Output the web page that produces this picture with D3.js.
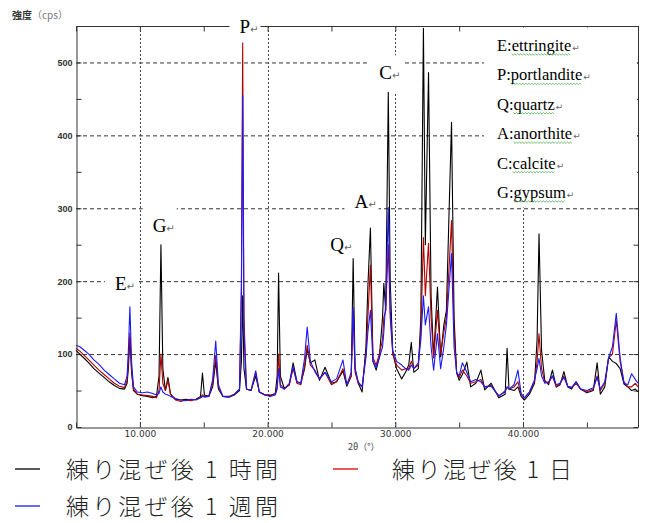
<!DOCTYPE html>
<html><head><meta charset="utf-8">
<script src="https://cdn.jsdelivr.net/npm/d3@7"></script>
<style>body{margin:0;background:#fff}svg{display:block}</style>
</head><body><svg id="c" width="649" height="523"></svg>
<script>
// ---- data ----
const twoTheta = [
  5.0,5.3,5.6,6.0,6.4,6.8,7.2,7.6,8.0,8.4,
  8.8,9.0,9.1,9.22,9.35,9.5,9.8,10.2,10.6,11.0,
  11.3,11.5,11.65,11.8,12.0,12.2,12.4,12.8,13.2,13.6,
  14.0,14.4,14.75,14.9,15.05,15.4,15.7,15.94,16.15,16.5,
  17.0,17.4,17.8,17.95,18.05,18.15,18.35,18.7,19.07,19.35,
  19.8,20.2,20.6,20.75,20.86,21.0,21.3,21.7,22.0,22.3,
  22.6,22.9,23.1,23.35,23.7,24.06,24.5,25.0,25.4,25.9,
  26.2,26.55,26.7,26.85,27.1,27.4,27.7,27.85,28.05,28.25,
  28.5,28.75,29.0,29.1,29.25,29.45,29.6,29.8,30.1,30.5,
  30.8,31.05,31.25,31.45,31.8,32.0,32.2,32.35,32.6,32.8,
  33.0,33.3,33.55,33.8,34.0,34.4,34.6,34.8,35.0,35.25,
  35.6,35.9,36.3,36.7,37.0,37.5,38.1,38.6,38.75,38.9,
  39.3,39.6,39.85,40.1,40.5,40.9,41.1,41.25,41.45,41.7,
  42.0,42.3,42.6,42.9,43.2,43.5,43.8,44.15,44.5,45.0,
  45.5,45.8,46.05,46.4,46.7,47.0,47.3,47.6,47.9,48.2,
  48.5,48.8,49.0];
const oneHour = [
  105,100,95,88,80,74,68,62,57,53,
  52,60,80,122,75,50,45,43,42,40,
  42,70,250,80,50,68,45,38,37,38,
  37,38,42,74,44,42,55,90,52,42,
  41,44,50,90,180,80,52,50,70,48,
  44,43,46,70,211,70,53,58,88,62,
  60,80,107,88,92,64,82,60,62,77,
  56,70,231,80,60,48,110,192,273,90,
  78,96,150,197,160,459,200,101,80,66,
  75,85,116,75,80,150,547,250,486,180,
  95,192,96,140,160,418,150,74,64,72,
  89,55,60,78,51,60,40,45,108,52,
  50,55,42,37,45,60,120,265,105,64,
  58,78,55,58,76,55,52,62,52,47,
  50,88,45,55,96,90,87,80,59,55,
  50,52,48];
const oneDay = [
  108,104,99,92,85,78,72,66,60,56,
  54,64,90,129,80,52,45,44,43,42,
  40,50,100,60,50,64,45,37,35,37,
  36,38,40,44,42,42,60,98,55,42,
  42,45,52,200,527,150,52,50,75,48,
  44,44,45,55,100,58,52,58,80,60,
  58,85,112,85,78,66,75,58,62,80,
  58,70,160,75,60,55,100,150,222,95,
  85,100,120,150,160,250,150,100,85,78,
  80,80,90,80,85,130,260,180,252,150,
  95,160,100,130,150,283,130,75,68,78,
  70,60,62,65,55,57,42,50,55,52,
  55,62,45,40,48,62,90,128,80,62,
  60,70,55,60,70,56,54,60,52,48,
  52,70,50,60,95,100,146,90,62,55,
  55,60,55];
const oneWeek = [
  112,110,106,100,92,86,78,72,66,60,
  58,70,105,165,90,55,48,47,48,46,
  44,46,55,48,45,44,42,39,37,36,
  38,37,40,42,41,42,65,118,58,42,
  41,45,52,180,455,130,52,50,77,48,
  44,42,44,52,80,55,52,60,83,62,
  60,95,137,90,76,66,75,62,66,92,
  58,75,164,80,62,55,95,130,160,90,
  82,95,110,130,170,301,160,105,90,85,
  80,78,85,80,88,120,180,140,165,110,
  78,128,80,110,140,238,110,75,70,88,
  75,62,65,62,55,56,43,48,55,52,
  58,78,46,40,48,65,80,94,70,60,
  62,70,58,60,68,56,54,62,52,50,
  54,68,52,62,95,110,156,95,60,58,
  73,65,60];
const seriesNames = ["練り混ぜ後 1 時間", "練り混ぜ後 1 日", "練り混ぜ後 1 週間"];
const yTickValues = [0,100,200,300,400,500];
const xTickValues = [10,20,30,40];
const xTickLabels = ["10.000","20.000","30.000","40.000"];
const peakLetters = ["P","C","A","Q","G","E"];
const peakTheta   = [17.8,28.75,26.8,24.9,11.0,8.05];
const peakCps     = [540,477,300,242,268,188];
const phaseKeys  = ["E","P","Q","A","C","G"];
const phaseNames = ["ettringite","portlandite","quartz","anorthite","calcite","gypsum"];

// ---- layout ----
const svg = d3.select("#c");
const L=76, R=638, T=26, B=427;
const x = d3.scaleLinear().domain([5,49]).range([L,R]);
const y = d3.scaleLinear().domain([0,550]).range([B,T]);
const colors = ["#000000","#b00000","#1a1aff"];
const legendColors = ["#000000","#e00000","#1a1aff"];
const series = [oneHour, oneDay, oneWeek];

// gridlines
const g = svg.append("g");
g.selectAll("line.h").data(yTickValues.filter(v=>v>0)).join("line")
  .attr("x1",L).attr("x2",R).attr("y1",d=>y(d)+0.5).attr("y2",d=>y(d)+0.5)
  .attr("stroke","#333").attr("stroke-width",1).attr("stroke-dasharray","4,3");
g.selectAll("line.v").data(xTickValues).join("line")
  .attr("y1",T).attr("y2",B).attr("x1",d=>Math.round(x(d))+0.5).attr("x2",d=>Math.round(x(d))+0.5)
  .attr("stroke","#444").attr("stroke-width",1).attr("stroke-dasharray","2,2");

// frame top/right
svg.append("line").attr("x1",L).attr("x2",R+0.5).attr("y1",T+0.5).attr("y2",T+0.5).attr("stroke","#333");
svg.append("line").attr("x1",R+0.5).attr("x2",R+0.5).attr("y1",T).attr("y2",B).attr("stroke","#333");

// minor ticks
const minorY = d3.range(0,551,50), minorX = d3.range(5,50,5);
svg.append("g").attr("transform",`translate(${L+0.5},0)`).call(d3.axisLeft(y).tickValues(minorY).tickSize(-5).tickFormat(""))
  .call(a=>a.select(".domain").remove()).selectAll("line").attr("stroke","#333");
svg.append("g").attr("transform",`translate(${R+0.5},0)`).call(d3.axisRight(y).tickValues(minorY).tickSize(-5).tickFormat(""))
  .call(a=>a.select(".domain").remove()).selectAll("line").attr("stroke","#333");
svg.append("g").attr("transform",`translate(0,${T+0.5})`).call(d3.axisTop(x).tickValues(minorX).tickSize(-5).tickFormat(""))
  .call(a=>a.select(".domain").remove()).selectAll("line").attr("stroke","#333");
svg.append("g").attr("transform",`translate(0,${B+0.5})`).call(d3.axisBottom(x).tickValues(minorX).tickSize(-5).tickFormat(""))
  .call(a=>a.select(".domain").remove()).selectAll("line").attr("stroke","#333");

// white boxes for annotations
const boxLayer = svg.append("g");
boxLayer.append("rect").attr("x",484).attr("y",T+1.5).attr("width",R-484-1).attr("height",180).attr("fill","#fff");

// lines
const line = d3.line().x((d,i)=>x(twoTheta[i])).y(d=>y(d));
series.forEach((s,k)=>{
  svg.append("path").datum(s).attr("d",line).attr("fill","none")
    .attr("stroke",colors[k]).attr("stroke-width",1.1).attr("stroke-linejoin","round");
});

// axes left/bottom
const yAx = svg.append("g").attr("transform",`translate(${L+0.5},0)`)
  .call(d3.axisLeft(y).tickValues(yTickValues).tickSize(0).tickPadding(4));
yAx.select(".domain").attr("stroke","#333");
yAx.selectAll("text").attr("font-family","Liberation Sans").attr("font-size",9).attr("font-weight","bold").attr("fill","#333");
const xAx = svg.append("g").attr("transform",`translate(0,${B+0.5})`)
  .call(d3.axisBottom(x).tickValues(xTickValues).tickSize(0).tickPadding(3).tickFormat((d,i)=>xTickLabels[i]));
xAx.select(".domain").attr("stroke","#333");
xAx.selectAll("text").attr("font-family","DejaVu Sans").attr("font-size",9).attr("fill","#333");

svg.append("text").attr("x",348).attr("y",450).attr("font-family","Noto Sans CJK JP").attr("font-size",9).attr("fill","#444")
  .text("2θ（°）");

// header
const hd = svg.append("text").attr("x",12).attr("y",19).attr("font-family","Noto Sans CJK JP").attr("font-size",10);
hd.append("tspan").attr("font-weight","bold").attr("fill","#333").text("強度");
hd.append("tspan").attr("fill","#777").text("（cps）");

// peak annotations
peakLetters.forEach((p,i)=>{
  const t = svg.append("text").attr("x",x(peakTheta[i])).attr("y",y(peakCps[i]))
    .attr("font-family","Liberation Serif").attr("font-size",19).attr("fill","#000");
  t.append("tspan").text(p);
  t.append("tspan").attr("font-size",10).attr("fill","#666").attr("font-family","DejaVu Sans").text("↵");
  const bb = t.node().getBBox();
  boxLayer.append("rect").attr("x",bb.x-10).attr("y",bb.y-7).attr("width",bb.width+12).attr("height",bb.height+16).attr("fill","#fff");
});

// phase legend (right)
phaseKeys.forEach((k,i)=>{
  const yy = 51 + i*29.4, x0 = 497;
  const a = svg.append("text").attr("x",x0).attr("y",yy).attr("font-family","Liberation Serif").attr("font-size",16.5).attr("fill","#000").text(k+":");
  const w1 = a.node().getComputedTextLength();
  const b = svg.append("text").attr("x",x0+w1).attr("y",yy).attr("font-family","Liberation Serif").attr("font-size",16.5).attr("fill","#000").text(phaseNames[i]);
  const w2 = b.node().getComputedTextLength();
  svg.append("text").attr("x",x0+w1+w2+1).attr("y",yy).attr("font-family","DejaVu Sans").attr("font-size",9).attr("fill","#666").text("↵");
  const pts = [];
  for (let xx=0; xx<=w2; xx+=1.5) pts.push([x0+w1+xx, yy+3 + ((Math.round(xx/1.5))%2?1.2:-0.2)]);
  svg.append("path").attr("d",d3.line()(pts)).attr("fill","none").attr("stroke","#4caf50").attr("stroke-width",0.8);
});

// bottom legend
const legPos = [[15,469,66,212],[333,469,392,180],[15,506,66,212]];
seriesNames.forEach((n,i)=>{
  const [lx,ly,tx,tw] = legPos[i];
  svg.append("line").attr("x1",lx).attr("x2",lx+25).attr("y1",ly).attr("y2",ly).attr("stroke",legendColors[i]).attr("stroke-width",1.3);
  svg.append("text").attr("x",tx).attr("y",ly+9).attr("font-family","Noto Sans CJK JP").attr("font-weight",300).attr("font-size",23)
    .attr("textLength",tw).attr("lengthAdjust","spacing").attr("fill","#222").text(n);
});
</script></body></html>
